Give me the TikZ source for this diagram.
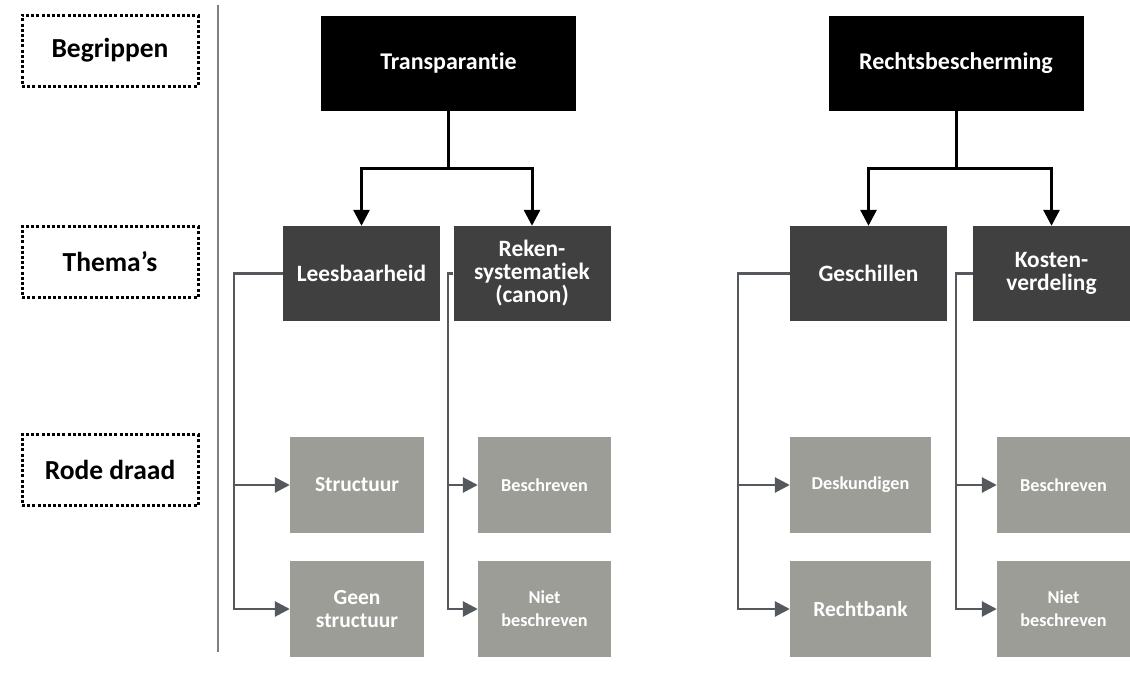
\documentclass[tikz,border=0pt]{standalone}
\usepackage{fontspec}
\setmainfont{Carlito}[Ligatures=NoCommon]
\usetikzlibrary{arrows.meta,calc}
\definecolor{themegray}{HTML}{404040}
\definecolor{leafgray}{HTML}{9D9D98}
\definecolor{linegray}{HTML}{55585D}
\definecolor{divgray}{HTML}{808080}
\begin{document}
\begin{tikzpicture}[x=1pt,y=-1pt,
  lvl/.style={draw=black,line width=3pt,dash pattern=on 3pt off 2.2pt,minimum width=176pt,minimum height=71pt,font=\fontsize{27.5}{30}\selectfont\bfseries,inner sep=0pt},
  topbox/.style={fill=black,text=white,minimum width=255pt,minimum height=95pt,font=\fontsize{24}{26}\selectfont\bfseries,inner sep=0pt,align=center},
  themebox/.style={fill=themegray,text=white,minimum width=157pt,minimum height=95pt,font=\fontsize{23.4}{23}\selectfont\bfseries,inner sep=0pt,align=center},
  leafbox/.style={fill=leafgray,text=white,minimum height=96pt,inner sep=0pt,align=center,font=\fontsize{21.5}{23}\selectfont\bfseries},
  smalltxt/.style={font=\fontsize{18.2}{23}\selectfont\bfseries},
  barrow/.style={draw=black,line width=3pt,-{Triangle[length=16pt,width=16pt]}},
  garrow/.style={draw=linegray,line width=2.8pt,-{Triangle[length=15pt,width=15pt]}}]
\useasboundingbox (0,0) rectangle (1130,680);
% level labels
\node[lvl] (begr) at (110,50.5) {Begrippen};
\node[lvl] (them) at (110,262) {Thema’s};
\node[lvl] (rode) at (110,470) {Rode draad};
% divider
\coordinate (d1) at (218,5);
\coordinate (d2) at (218,652);
\draw[divgray,line width=1.5pt] (d1) -- (d2);
% top boxes
\node[topbox] (trans) at (448.5,63) {Transparantie};
\node[topbox] (recht) at (956,63) {Rechtsbescherming};
% themes
\node[themebox] (lees) at (361.5,273.5) {Leesbaarheid};
\node[themebox] (reken) at (532,273.5) {Reken-\\systematiek\\(canon)};
\node[themebox] (gesch) at (868.5,273.5) {Geschillen};
\node[themebox] (kost) at (1051.5,273.5) {Kosten-\\verdeling};
% leaves
\node[leafbox,minimum width=134pt] (struc) at (357,485) {Structuur};
\node[leafbox,minimum width=134pt] (geen) at (357,609) {Geen\\structuur};
\node[leafbox,minimum width=133pt,smalltxt] (besc1) at (544.5,485) {Beschreven};
\node[leafbox,minimum width=133pt,smalltxt] (niet1) at (544.5,609) {Niet\\beschreven};
\node[leafbox,minimum width=141pt,smalltxt] (desk) at (860.5,485) {Deskundigen};
\node[leafbox,minimum width=141pt] (rb) at (860.5,609) {Rechtbank};
\node[leafbox,minimum width=133pt,smalltxt] (besc2) at (1063.5,485) {Beschreven};
\node[leafbox,minimum width=133pt,smalltxt] (niet2) at (1063.5,609) {Niet\\beschreven};
% black connectors
\coordinate (j1) at (448.5,168);
\coordinate (j2) at (956,168);
\draw[barrow] (trans.south) -- (j1) -| (lees.north);
\draw[barrow] (trans.south) -- (j1) -| (reken.north);
\draw[barrow] (recht.south) -- (j2) -| (gesch.north);
\draw[barrow] (recht.south) -- (j2) -| (kost.north);
% gray connectors
\coordinate (t1) at (234,273.5);
\coordinate (t2) at (448,273.5);
\coordinate (t3) at (738,273.5);
\coordinate (t4) at (956,273.5);
\draw[garrow] (lees.west) -- (t1) |- (struc.west);
\draw[garrow] (lees.west) -- (t1) |- (geen.west);
\draw[garrow] (reken.west) -- (t2) |- (besc1.west);
\draw[garrow] (reken.west) -- (t2) |- (niet1.west);
\draw[garrow] (gesch.west) -- (t3) |- (desk.west);
\draw[garrow] (gesch.west) -- (t3) |- (rb.west);
\draw[garrow] (kost.west) -- (t4) |- (besc2.west);
\draw[garrow] (kost.west) -- (t4) |- (niet2.west);
\end{tikzpicture}
\end{document}
